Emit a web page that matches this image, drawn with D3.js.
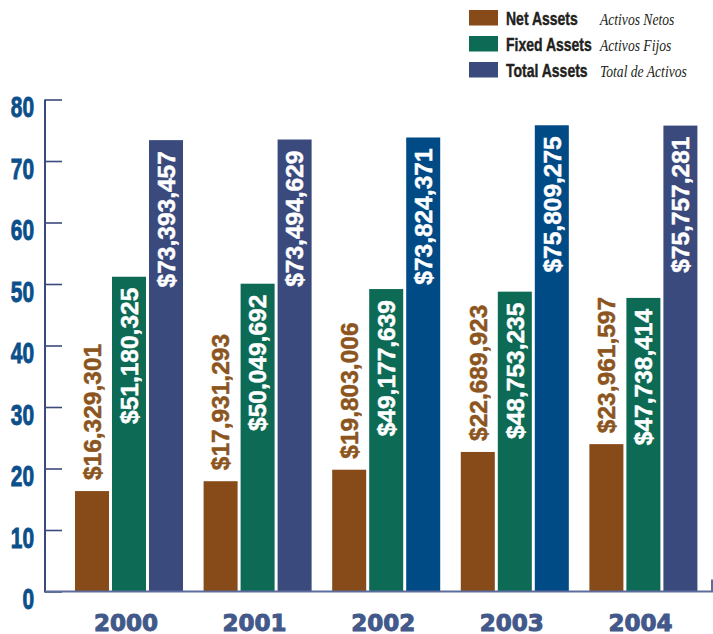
<!DOCTYPE html>
<html>
<head>
<meta charset="utf-8">
<script src="https://cdn.jsdelivr.net/npm/d3@7"></script>
<style>
  body { margin: 0; background: #fff; }
</style>
</head>
<body>
<div id="chart"></div>
<script>
// values in millions of dollars
var years = ["2000", "2001", "2002", "2003", "2004"];
var netAssets = [16.329301, 17.931293, 19.803006, 22.689923, 23.961597];
var fixedAssets = [51.180325, 50.049692, 49.177639, 48.753235, 47.738414];
var totalAssets = [73.393457, 73.494629, 73.824371, 75.809275, 75.757281];
var seriesNames = ["Net Assets", "Fixed Assets", "Total Assets"];
var seriesSpanish = ["Activos Netos", "Activos Fijos", "Total de Activos"];
var yTicks = [0, 10, 20, 30, 40, 50, 60, 70, 80];

var width = 713, height = 634;
var brown = "#874a19", green = "#0d6a54", slate = "#3b4a7c", navy = "#004b85";
// the 2002 and 2003 total bars are printed in a deeper blue
var totalColors = [slate, slate, navy, navy, slate];

var keys = ["net", "fixed", "total"];
var rows = years.map(function(y, i) {
  return { year: y, i: i, net: netAssets[i], fixed: fixedAssets[i], total: totalAssets[i] };
});

var svg = d3.select("#chart").append("svg")
  .attr("width", width)
  .attr("height", height);

var y = d3.scaleLinear().domain([0, 80]).range([591.5, 99.5]);

var x0 = d3.scaleBand()
  .domain(years)
  .range([64.7, 707.7])
  .paddingInner(0.16)
  .paddingOuter(0.08);

var x1 = d3.scaleBand()
  .domain(keys)
  .range([0, x0.bandwidth()])
  .paddingInner(0.081);

function fillFor(k, i) {
  if (k === "net") return brown;
  if (k === "fixed") return green;
  return totalColors[i];
}

var fmt = function(v) { return "$" + d3.format(",")(Math.round(v * 1e6)); };

// bars
var groups = svg.selectAll("g.year")
  .data(rows)
  .enter().append("g")
  .attr("class", "year")
  .attr("transform", function(d) { return "translate(" + x0(d.year) + ",0)"; });

var cells = groups.selectAll("g.bar")
  .data(function(d) { return keys.map(function(k) { return { key: k, value: d[k], i: d.i }; }); })
  .enter().append("g")
  .attr("class", "bar");

cells.append("rect")
  .attr("x", function(d) { return x1(d.key); })
  .attr("y", function(d) { return y(d.value); })
  .attr("width", x1.bandwidth())
  .attr("height", function(d) { return y(0) - y(d.value); })
  .attr("fill", function(d) { return fillFor(d.key, d.i); });

cells.append("text")
  .attr("transform", function(d) {
    return "translate(" + (x1(d.key) + x1.bandwidth() / 2) + "," + y(d.value) + ") rotate(-90)";
  })
  .attr("x", function(d) { return d.key === "net" ? 11 : -11; })
  .attr("dy", "0.36em")
  .attr("text-anchor", function(d) { return d.key === "net" ? "start" : "end"; })
  .attr("fill", function(d) { return d.key === "net" ? "#8c5520" : "#fff"; })
  .attr("stroke", function(d) { return d.key === "net" ? "#8c5520" : "#fff"; })
  .attr("stroke-width", 0.5)
  .style("font-family", "'Liberation Sans', Arial, sans-serif")
  .style("font-weight", "bold")
  .style("font-size", "24.5px")
  .text(function(d) { return fmt(d.value); });

// y axis
var yAxis = svg.append("g")
  .attr("transform", "translate(45,0)")
  .call(d3.axisRight(y).tickValues(yTicks).tickSize(17).tickFormat(""));
yAxis.select(".domain").remove();
yAxis.selectAll(".tick line")
  .attr("stroke", slate)
  .attr("stroke-width", 1.6);

svg.append("line")
  .attr("x1", 45).attr("x2", 45)
  .attr("y1", y(80)).attr("y2", y(0) + 1)
  .attr("stroke", slate)
  .attr("stroke-width", 2);

// condensed look by squeezing a bold sans horizontally
svg.selectAll("text.ylab")
  .data(yTicks)
  .enter().append("text")
  .attr("class", "ylab")
  .attr("transform", function(d) { return "translate(34," + (y(d) + 17.5) + ") scale(0.72,1)"; })
  .attr("text-anchor", "end")
  .attr("fill", "#0b4f8b")
  .attr("stroke", "#0b4f8b")
  .attr("stroke-width", 0.9)
  .style("font-family", "'Liberation Sans', Arial, sans-serif")
  .style("font-weight", "bold")
  .style("font-size", "29px")
  .text(function(d) { return d; });

// x baseline
svg.append("path")
  .attr("d", "M45," + y(0) + "H712V" + (y(0) - 12))
  .attr("fill", "none")
  .attr("stroke", "#5d6c9c")
  .attr("stroke-width", 2);

var xAxis = svg.append("g")
  .attr("transform", "translate(-3," + y(0) + ")")
  .call(d3.axisBottom(x0).tickSize(0).tickPadding(0));
xAxis.select(".domain").remove();
xAxis.selectAll(".tick text")
  .attr("dy", 0)
  .attr("y", 39)
  .attr("fill", "#42598a")
  .attr("stroke", "#42598a")
  .attr("stroke-width", 1)
  .style("font-family", "'DejaVu Sans', sans-serif")
  .style("font-weight", "bold")
  .style("font-size", "23px");

// legend
var legendColors = [brown, green, slate];
var legend = svg.selectAll("g.legend")
  .data(seriesNames)
  .enter().append("g")
  .attr("class", "legend")
  .attr("transform", function(d, i) { return "translate(469," + (10 + i * 26) + ")"; });

legend.append("rect")
  .attr("width", 29)
  .attr("height", 15.5)
  .attr("fill", function(d, i) { return legendColors[i]; });

legend.append("text")
  .attr("transform", "translate(37,14.5) scale(0.8,1)")
  .attr("fill", "#231f20")
  .attr("stroke", "#231f20")
  .attr("stroke-width", 0.4)
  .style("font-family", "'Liberation Sans', Arial, sans-serif")
  .style("font-weight", "bold")
  .style("font-size", "17.5px")
  .text(function(d) { return d; });

legend.append("text")
  .attr("transform", "translate(131,14.5) scale(0.85,1)")
  .attr("fill", "#231f20")
  .style("font-family", "'Liberation Serif', serif")
  .style("font-style", "italic")
  .style("font-size", "16px")
  .text(function(d, i) { return seriesSpanish[i]; });
</script>
</body>
</html>
